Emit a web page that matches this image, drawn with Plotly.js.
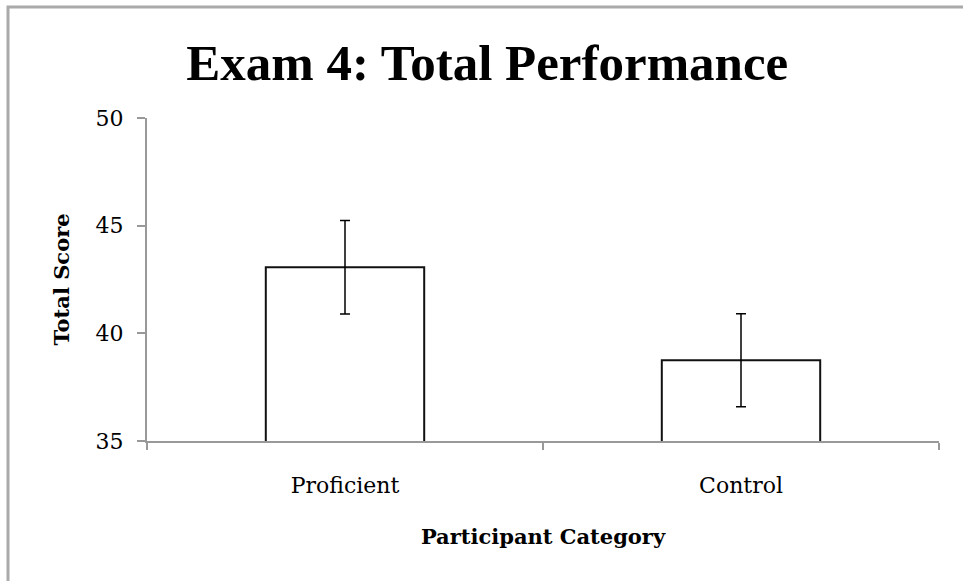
<!DOCTYPE html>
<html>
<head>
<meta charset="utf-8">
<script src="https://cdn.plot.ly/plotly-3.0.1.min.js"></script>
<style>html,body{margin:0;padding:0;background:#fff;}#chart{width:963px;height:581px;}</style>
</head>
<body>
<div id="chart"></div>
<script>
const categories = ["Proficient", "Control"];
const totalScores = [43.07, 38.75];
const errorValues = [2.17, 2.16];
const yTickValues = [35, 40, 45, 50];

const trace = {
  type: "bar",
  x: categories,
  y: totalScores,
  base: 0,
  marker: {color: "#ffffff", line: {color: "#111111", width: 2}},
  error_y: {type: "data", array: errorValues, visible: true, color: "#000000", thickness: 1.5, width: 5},
  hoverinfo: "none"
};

const layout = {
  width: 963, height: 581,
  margin: {l: 147, r: 24, t: 118, b: 140},
  paper_bgcolor: "#ffffff", plot_bgcolor: "#ffffff",
  showlegend: false,
  bargap: 0.6,
  title: {text: "Exam 4: Total Performance", x: 0.506, xref: "container", y: 0.893, yanchor: "middle",
          font: {family: "Liberation Serif", size: 51, color: "#000", weight: "bold"}},
  xaxis: {
    type: "category",
    showline: true, linecolor: "#999999", linewidth: 2,
    ticks: "outside", tickson: "boundaries", ticklen: 7, tickcolor: "#999999", tickwidth: 2,
    tickfont: {family: "DejaVu Serif", size: 22, color: "#000"},
    ticklabelstandoff: 24,
    showgrid: false, zeroline: false,
    title: {text: "Participant Category", standoff: 32, font: {family: "DejaVu Serif", size: 21, color: "#000", weight: "bold"}}
  },
  yaxis: {
    range: [35, 50], tickvals: yTickValues,
    showline: true, linecolor: "#999999", linewidth: 2,
    ticks: "outside", ticklen: 8, tickcolor: "#999999", tickwidth: 2,
    tickfont: {family: "DejaVu Serif", size: 22, color: "#000"},
    ticklabelstandoff: 9,
    showgrid: false, zeroline: false,
    title: {text: "Total Score", standoff: 20, font: {family: "DejaVu Serif", size: 21, color: "#000", weight: "bold"}}
  },
  shapes: [{type: "rect", xref: "paper", yref: "paper", x0: -0.1755, x1: 1.3, y0: -0.6, y1: 1.3437,
            line: {color: "#aaaaaa", width: 3}, fillcolor: "rgba(0,0,0,0)"}]
};

Plotly.newPlot("chart", [trace], layout, {displayModeBar: false, staticPlot: true});
</script>
</body>
</html>
